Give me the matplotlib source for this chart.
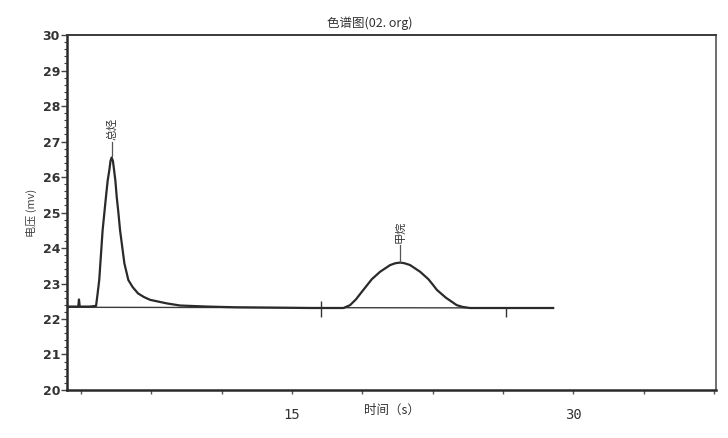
import matplotlib
matplotlib.use("Agg")
import matplotlib.pyplot as plt
from matplotlib.ticker import FixedLocator, MultipleLocator

plt.rcParams['font.family'] = ['Noto Sans CJK SC', 'DejaVu Sans']

# chromatogram trace (time s, voltage mV)
sig_t = [3.0, 3.6, 3.64, 3.68, 4.2, 4.55, 4.63, 4.72, 4.81, 4.90, 5.08, 5.17, 5.26, 5.32,
         5.38, 5.45, 5.51, 5.58, 5.65, 5.74, 5.83, 6.06, 6.27, 6.5, 6.79, 7.1, 7.43, 8.32,
         9.03, 10.5, 12.0, 14.0, 16.0, 17.74, 18.09, 18.4, 18.80, 19.25, 19.69, 20.23,
         20.5, 20.76, 21.0, 21.29, 21.83, 22.27, 22.5, 22.72, 23.2, 23.78, 24.1, 24.49,
         26.0, 27.5, 28.92]
sig_v = [22.35, 22.35, 22.55, 22.35, 22.35, 22.37, 22.7, 23.1, 23.8, 24.5, 25.45, 25.9,
         26.2, 26.45, 26.55, 26.45, 26.2, 25.9, 25.45, 25.0, 24.5, 23.57, 23.1, 22.9,
         22.72, 22.62, 22.54, 22.44, 22.38, 22.35, 22.33, 22.32, 22.31, 22.31, 22.39,
         22.55, 22.82, 23.12, 23.33, 23.52, 23.57, 23.59, 23.57, 23.52, 23.33, 23.12,
         22.97, 22.82, 22.6, 22.39, 22.34, 22.31, 22.31, 22.31, 22.31]

baseline_t = [3.0, 28.92]
baseline_v = [22.33, 22.31]

# integration markers
mark_t = [16.55, 26.41]
mark_lo = [22.05, 22.05]
mark_hi = [22.5, 22.31]

peak_names = ['总烃', '甲烷']
peak_t = [5.38, 20.76]
peak_v = [26.58, 23.62]
label_v = [27.0, 24.08]

fig = plt.figure(figsize=(7.28, 4.38), dpi=100)
ax = fig.add_axes([0.092, 0.1096, 0.8915, 0.8104])

ax.plot(baseline_t, baseline_v, color='#3a3a3a', linewidth=1.0)
ax.plot(sig_t, sig_v, color='#2a2a2a', linewidth=1.6)
ax.vlines(mark_t, mark_lo, mark_hi, color='#333333', linewidth=1.0)

for name, t, v, lv in zip(peak_names, peak_t, peak_v, label_v):
    ax.plot([t, t], [v, lv], color='#555555', linewidth=0.9)
    ax.text(t, lv + 0.05, name, rotation=90, ha='center', va='bottom',
            fontsize=8, color='#333333')

ax.set_xlim(3, 37.6)
ax.set_ylim(20, 30)

ax.xaxis.set_major_locator(FixedLocator([15, 30]))
ax.xaxis.set_minor_locator(MultipleLocator(3.75))
ax.set_xticklabels(['15', '30'], fontfamily='DejaVu Sans Mono', fontsize=10, color='#333333')
ax.yaxis.set_major_locator(MultipleLocator(1))
ax.yaxis.set_minor_locator(MultipleLocator(0.2))
for lab in ax.get_yticklabels():
    lab.set_fontfamily('DejaVu Sans')
    lab.set_fontweight('bold')
    lab.set_fontsize(9)
    lab.set_color('#333333')

ax.tick_params(axis='x', which='both', direction='out', length=3, width=1, color='#555555', pad=10)
ax.tick_params(axis='y', which='major', direction='out', length=4, width=1, color='#444444', pad=1)
ax.tick_params(axis='y', which='minor', direction='out', length=2, width=0.8, color='#444444')

for side in ['left', 'bottom']:
    ax.spines[side].set_linewidth(1.8)
    ax.spines[side].set_color('#2a2a2a')
ax.spines['top'].set_linewidth(1.4)
ax.spines['top'].set_color('#3a3a3a')
ax.spines['right'].set_linewidth(1.2)
ax.spines['right'].set_color('#555555')

ax.set_xlabel('时间（s）', fontsize=9, color='#333333', labelpad=-13)
ax.set_ylabel('电压 (mv)', fontsize=8, color='#444444', labelpad=4)
ax.text(0.467, 1.015, '色谱图(02. org)', transform=ax.transAxes, ha='center', va='bottom',
        fontsize=9, color='#333333')

fig.savefig('out.png', dpi=100, facecolor='white')
